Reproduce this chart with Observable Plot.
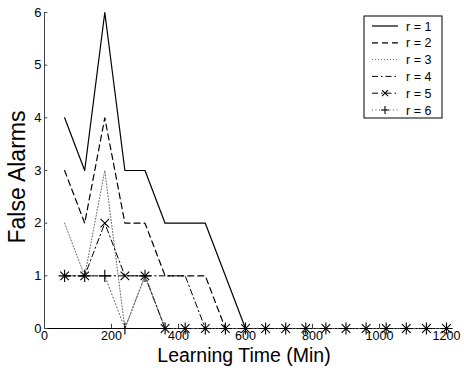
<!DOCTYPE html>
<html>
<head>
<meta charset="utf-8">
<script src="https://cdn.jsdelivr.net/npm/d3@7"></script>
<script src="https://cdn.jsdelivr.net/npm/@observablehq/plot@0.6"></script>
<style>
  html, body { margin: 0; padding: 0; background: #fff; }
  #chart svg { display: block; }
</style>
</head>
<body>
<div id="chart"></div>
<script>
// ---- data ----
const times = [60,120,180,240,300,360,420,480,540,600,660,720,780,840,900,960,1020,1080,1140,1200];
const r1 = [4,3,6,3,3,2,2,2,1,0,0,0,0,0,0,0,0,0,0,0];
const r2 = [3,2,4,2,2,1,1,1,0,0,0,0,0,0,0,0,0,0,0,0];
const r3 = [2,1,3,0,1,0,0,0,0,0,0,0,0,0,0,0,0,0,0,0];
const r4 = [1,1,1,1,1,1,1,0,0,0,0,0,0,0,0,0,0,0,0,0];
const r5 = [1,1,2,1,1,0,0,0,0,0,0,0,0,0,0,0,0,0,0,0];
const r6 = [1,1,1,0,1,0,0,0,0,0,0,0,0,0,0,0,0,0,0,0];
const seriesNames = ["r = 1","r = 2","r = 3","r = 4","r = 5","r = 6"];
const xTicks = [0,200,400,600,800,1000,1200];
const yTicks = [0,1,2,3,4,5,6];
const xLabel = "Learning Time (Min)";
const yLabel = "False Alarms";

// styles per series
const styles = [
  {dash: null, width: 1.2, color: "black", symbol: null},
  {dash: "6,4", width: 1.2, color: "black", symbol: null},
  {dash: "1,2", width: 1, color: "#666", symbol: null},
  {dash: "6,3,1.5,3", width: 1, color: "black", symbol: null},
  {dash: "6,3,1.5,3", width: 1, color: "black", symbol: "times"},
  {dash: "1,2.5", width: 1, color: "#555", symbol: "plus"}
];
const allSeries = [r1, r2, r3, r4, r5, r6];
const tables = allSeries.map((vals, i) => times.map((t, j) => ({t, v: vals[j], s: seriesNames[i]})));

const W = 464, H = 371;
const mL = 44, mR = 18, mT = 12, mB = 43;
const fmt = d3.format("d");

const marks = [
  Plot.ruleY([0], {stroke: "black", strokeWidth: 1}),
  Plot.ruleX([0], {stroke: "#444", strokeWidth: 1}),
  Plot.ruleX(xTicks, {x: d => d, y1: 0, y2: 0.08, stroke: "#444"}),
  Plot.ruleY(yTicks, {y: d => d, x1: 0, x2: 10, stroke: "#444"}),
  Plot.axisX(xTicks, {tickSize: 0, tickPadding: 3, fontSize: 12.5, label: null, tickFormat: fmt}),
  Plot.axisY(yTicks, {tickSize: 0, tickPadding: 3, fontSize: 13, label: null, tickFormat: fmt})
];
tables.forEach((tb, i) => {
  const st = styles[i];
  marks.push(Plot.line(tb, {x: "t", y: "v", stroke: st.color, strokeWidth: st.width, strokeDasharray: st.dash || undefined}));
  if (st.symbol) {
    marks.push(Plot.dot(tb, {x: "t", y: "v", symbol: st.symbol, r: 4, stroke: "black", strokeWidth: 1.1, fill: "none"}));
  }
});

const chart = Plot.plot({
  width: W, height: H,
  marginLeft: mL, marginRight: mR, marginTop: mT, marginBottom: mB,
  x: {domain: [0, 1200]},
  y: {domain: [0, 6]},
  style: {fontFamily: "'Liberation Sans', Arial, Helvetica, sans-serif", fontSize: "12px", background: "white", color: "black", overflow: "visible"},
  marks
});
document.getElementById("chart").appendChild(chart);

const svg = d3.select(chart);
const font = "'Liberation Sans', Arial, Helvetica, sans-serif";
// axis labels
svg.append("text")
  .attr("x", 244).attr("y", 362)
  .attr("text-anchor", "middle").attr("font-size", 19.5).attr("font-family", font)
  .attr("fill", "black").text(xLabel);
svg.append("text")
  .attr("transform", `translate(${25},${177}) rotate(-90)`)
  .attr("text-anchor", "middle").attr("font-size", 23).attr("font-family", font)
  .attr("fill", "black").text(yLabel);

// legend
const lx = 364, ly = 16, lw = 78, lh = 102;
const lg = svg.append("g");
lg.append("rect").attr("x", lx).attr("y", ly).attr("width", lw).attr("height", lh)
  .attr("fill", "white").attr("stroke", "black").attr("stroke-width", 1);
seriesNames.forEach((name, i) => {
  const st = styles[i];
  const yy = ly + 10 + i * 16.8;
  lg.append("line").attr("x1", lx + 8).attr("x2", lx + 34).attr("y1", yy).attr("y2", yy)
    .attr("stroke", st.color).attr("stroke-width", st.width)
    .attr("stroke-dasharray", st.dash || null);
  if (st.symbol === "times") {
    const c = lx + 21, s = 3;
    lg.append("path").attr("d", `M${c-s},${yy-s}L${c+s},${yy+s}M${c-s},${yy+s}L${c+s},${yy-s}`)
      .attr("stroke", "black").attr("stroke-width", 1.1);
  } else if (st.symbol === "plus") {
    const c = lx + 21, s = 4;
    lg.append("path").attr("d", `M${c-s},${yy}L${c+s},${yy}M${c},${yy-s}L${c},${yy+s}`)
      .attr("stroke", "black").attr("stroke-width", 1.1);
  }
  lg.append("text").attr("x", lx + 42).attr("y", yy + 4.5)
    .attr("text-anchor", "start")
    .attr("font-size", 12.5).attr("font-family", font).attr("fill", "black").text(name);
});
</script>
</body>
</html>
